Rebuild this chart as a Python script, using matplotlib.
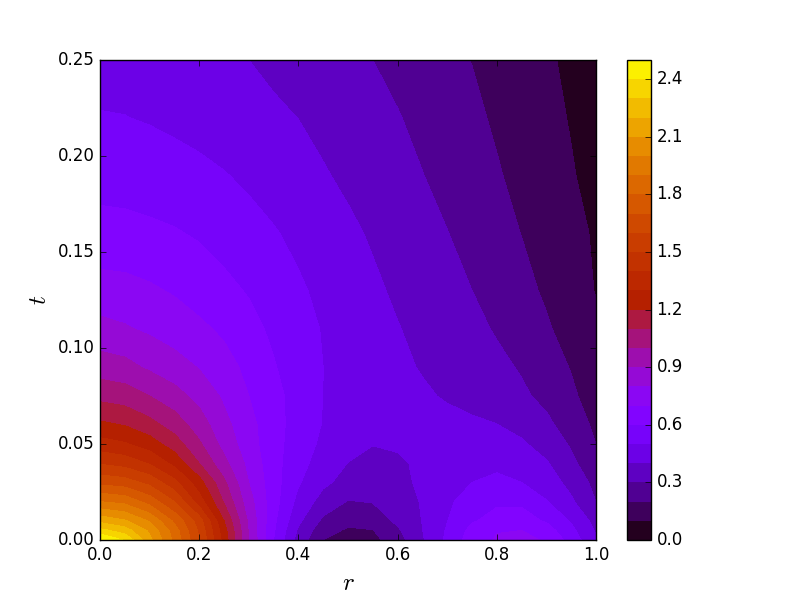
import numpy as np
import matplotlib
matplotlib.use('Agg')
import matplotlib.pyplot as plt

r_vals = [0, .05, .1, .15, .2, .25, .3, .35, .4, .45, .5, .55, .6, .65, .7, .75, .8, .85, .9, .95, 1]
t_vals = [0, .005, .01, .02, .03, .04, .05, .06, .075, .09, .11, .13, .16, .19, .22, .25]

# values, one list per t row
u_000 = [2.5, 2.39, 2.125, 1.875, 1.6, 1.26, .9, .6, .36, .2, .155, .17, .255, .39, .52, .65, .71, .725, .69, .56, .41]
u_005 = [2.33, 2.25, 2.08, 1.85, 1.58, 1.24, .89, .612, .385, .235, .187, .197, .285, .398, .51, .63, .695, .7, .645, .525, .39]
u_010 = [2.17, 2.11, 1.99, 1.78, 1.55, 1.2, .88, .622, .42, .28, .225, .24, .32, .403, .497, .59, .635, .635, .59, .49, .365]
u_020 = [1.9, 1.87, 1.76, 1.6, 1.35, 1.09, .84, .64, .47, .36, .295, .305, .355, .407, .48, .55, .585, .585, .505, .415, .3]
u_030 = [1.67, 1.645, 1.57, 1.43, 1.24, 1.02, .8, .64, .51, .42, .365, .365, .385, .41, .462, .5, .515, .5, .45, .37, .27]
u_040 = [1.49, 1.46, 1.39, 1.27, 1.1, .93, .77, .637, .53, .46, .398, .38, .39, .412, .45, .475, .485, .47, .41, .32, .24]
u_050 = [1.34, 1.31, 1.25, 1.15, 1.015, .865, .743, .635, .55, .48, .44, .402, .408, .42, .44, .45, .445, .415, .355, .29, .2]
u_060 = [1.22, 1.195, 1.135, 1.055, .95, .83, .73, .64, .555, .495, .475, .46, .45, .44, .43, .418, .402, .365, .321, .255, .18]
u_075 = [1.07, 1.05, 1.0, .94, .867, .784, .7, .63, .561, .499, .476, .455, .435, .414, .39, .365, .34, .315, .276, .217, .155]
u_090 = [.95, .932, .884, .84, .795, .737, .676, .607, .553, .5, .47, .445, .42, .393, .369, .345, .32, .292, .243, .195, .14]
u_110 = [.83, .81, .783, .753, .72, .682, .63, .582, .536, .494, .464, .434, .404, .377, .349, .322, .292, .252, .211, .164, .115]
u_130 = [.74, .733, .714, .69, .656, .625, .592, .553, .513, .479, .447, .416, .386, .357, .329, .3, .263, .226, .187, .142, .096]
u_160 = [.63, .627, .618, .607, .589, .562, .534, .507, .478, .448, .418, .389, .36, .331, .302, .268, .233, .198, .162, .125, .09]
u_190 = [.567, .562, .553, .54, .525, .505, .482, .457, .432, .408, .382, .355, .328, .302, .271, .239, .208, .175, .14, .107, .07]
u_220 = [.505, .502, .492, .478, .462, .446, .43, .415, .399, .375, .351, .328, .305, .277, .248, .218, .188, .157, .126, .094, .06]
u_250 = [.465, .463, .455, .443, .43, .416, .4, .381, .361, .34, .32, .3, .275, .249, .223, .198, .17, .142, .113, .082, .05]

plt.style.use('classic')

u = np.array([u_000, u_005, u_010, u_020, u_030, u_040, u_050, u_060,
              u_075, u_090, u_110, u_130, u_160, u_190, u_220, u_250])
levels = np.linspace(0, 2.5, 26)

fig = plt.figure(figsize=(8, 6), dpi=100, facecolor='white')
cs = plt.contourf(r_vals, t_vals, u, levels=levels, cmap='gnuplot')
cbar = plt.colorbar(cs, ticks=np.arange(0, 2.5, .3))

plt.xlabel('$r$', fontsize=18)
plt.ylabel('$t$', fontsize=18)
plt.xticks(np.arange(0, 1.01, .2))
plt.yticks(np.arange(0, .251, .05))
plt.xlim(0, 1)
plt.ylim(0, .25)

plt.savefig('out.png', dpi=100, facecolor='white')
